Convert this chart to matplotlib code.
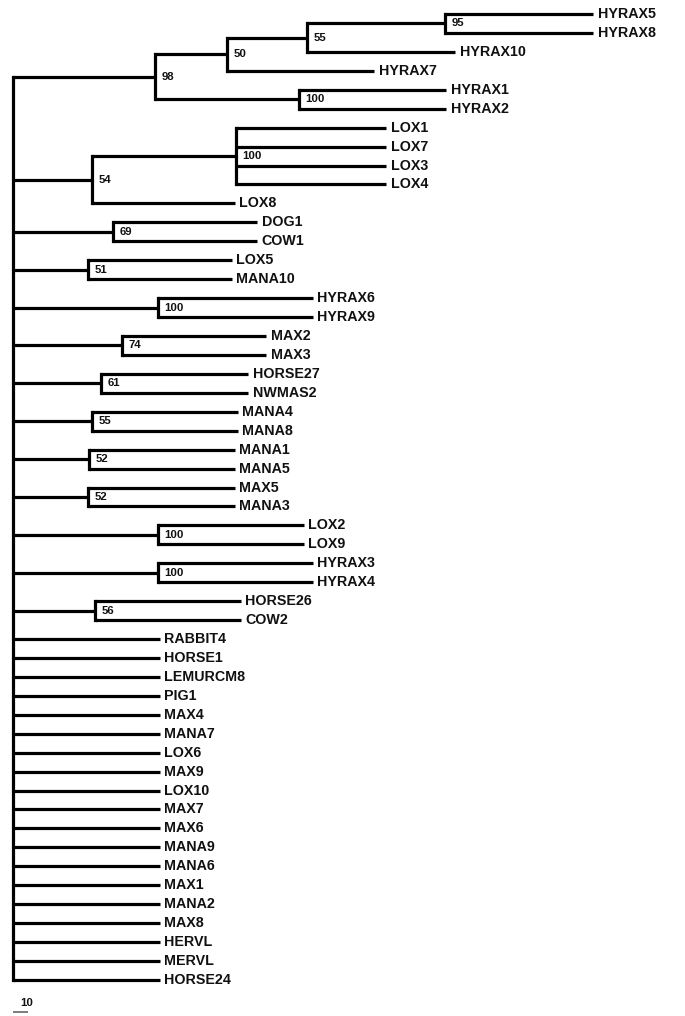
import matplotlib
matplotlib.use("Agg")
import matplotlib.pyplot as plt

plt.rcParams['font.family'] = ['Liberation Sans', 'DejaVu Sans']

# ---- data -------------------------------------------------------------
leaves = ["HYRAX5", "HYRAX8", "HYRAX10", "HYRAX7", "HYRAX1", "HYRAX2",
          "LOX1", "LOX7", "LOX3", "LOX4", "LOX8", "DOG1", "COW1", "LOX5",
          "MANA10", "HYRAX6", "HYRAX9", "MAX2", "MAX3", "HORSE27", "NWMAS2",
          "MANA4", "MANA8", "MANA1", "MANA5", "MAX5", "MANA3", "LOX2", "LOX9",
          "HYRAX3", "HYRAX4", "HORSE26", "COW2", "RABBIT4", "HORSE1",
          "LEMURCM8", "PIG1", "MAX4", "MANA7", "LOX6", "MAX9", "LOX10",
          "MAX7", "MAX6", "MANA9", "MANA6", "MAX1", "MANA2", "MAX8", "HERVL",
          "MERVL", "HORSE24"]
# depth of each tip (scale units)
tip_depth = [387, 387, 295, 241, 289, 289,
             249, 249, 249, 249, 148, 163, 163, 146,
             146, 200, 200, 169, 169, 157, 157,
             150, 150, 148, 148, 148, 148, 194, 194,
             200, 200, 152, 152] + [98] * 19

# internal nodes: name, children, depth, bootstrap support
node_names = ["N95", "N55a", "N50", "N100a", "N98", "N100b", "N54", "N69",
              "N51", "N100c", "N74", "N61", "N55b", "N52a", "N52b", "N100d",
              "N100e", "N56", "root"]
node_children = [
    ["HYRAX5", "HYRAX8"],
    ["N95", "HYRAX10"],
    ["N55a", "HYRAX7"],
    ["HYRAX1", "HYRAX2"],
    ["N50", "N100a"],
    ["LOX1", "LOX7", "LOX3", "LOX4"],
    ["N100b", "LOX8"],
    ["DOG1", "COW1"],
    ["LOX5", "MANA10"],
    ["HYRAX6", "HYRAX9"],
    ["MAX2", "MAX3"],
    ["HORSE27", "NWMAS2"],
    ["MANA4", "MANA8"],
    ["MANA1", "MANA5"],
    ["MAX5", "MANA3"],
    ["LOX2", "LOX9"],
    ["HYRAX3", "HYRAX4"],
    ["HORSE26", "COW2"],
    ["N98", "N54", "N69", "N51", "N100c", "N74", "N61", "N55b", "N52a",
     "N52b", "N100d", "N100e", "N56"] + leaves[33:],
]
node_depth = [288, 196, 143, 191, 95, 149, 53, 67, 50, 97, 73, 59, 53, 51,
              50, 97, 97, 55, 0]
node_support = ["95", "55", "50", "100", "98", "100", "54", "69", "51", "100",
                "74", "61", "55", "52", "52", "100", "100", "56", ""]
scale_length = 10

# ---- layout -----------------------------------------------------------
W, H = 685, 1016
fig = plt.figure(figsize=(W / 100, H / 100), dpi=100)
ax = fig.add_axes([0, 0, 1, 1])
px_per_unit = 1.5
x0_px = 13
y0_px, dy_px = 14, 18.94
ax.set_xlim(-x0_px / px_per_unit, (W - x0_px) / px_per_unit)
ax.set_ylim((H - y0_px) / dy_px, -y0_px / dy_px)
ax.axis('off')

pos = {}
depth = {}
for i, (n, d) in enumerate(zip(leaves, tip_depth)):
    pos[n] = i
    depth[n] = d
for n, d in zip(node_names, node_depth):
    depth[n] = d

lw = 2.3
col = 'black'
for n, ch, d, s in zip(node_names, node_children, node_depth, node_support):
    ys = [pos[c] for c in ch]
    pos[n] = (ys[0] + ys[-1]) / 2
    ax.plot([d, d], [min(ys), max(ys)], color=col, lw=lw,
            solid_capstyle='projecting', zorder=2)
    for c in ch:
        ax.plot([d, depth[c]], [pos[c], pos[c]], color=col, lw=lw,
                solid_capstyle='butt', zorder=2)
    if s:
        ax.annotate(s, (d, pos[n]), xytext=(4.5, 0), textcoords='offset points',
                    ha='left', va='center', fontsize=8.2, fontweight='bold',
                    color='#111111')

for n, d in zip(leaves, tip_depth):
    ax.annotate(n, (d, pos[n]), xytext=(3, 0), textcoords='offset points',
                ha='left', va='center', fontsize=10.3, fontweight='bold',
                color='#111111')

# scale bar
yb = pos["HORSE24"] + 1.69
ax.plot([0, scale_length], [yb, yb], color='#666666', lw=1.2,
        solid_capstyle='butt')
ax.text(4.6, pos["HORSE24"] + 1.22, str(scale_length), ha='left',
        va='center', fontsize=8.2, fontweight='bold', color='#111111')

fig.savefig("out.png", dpi=100)
